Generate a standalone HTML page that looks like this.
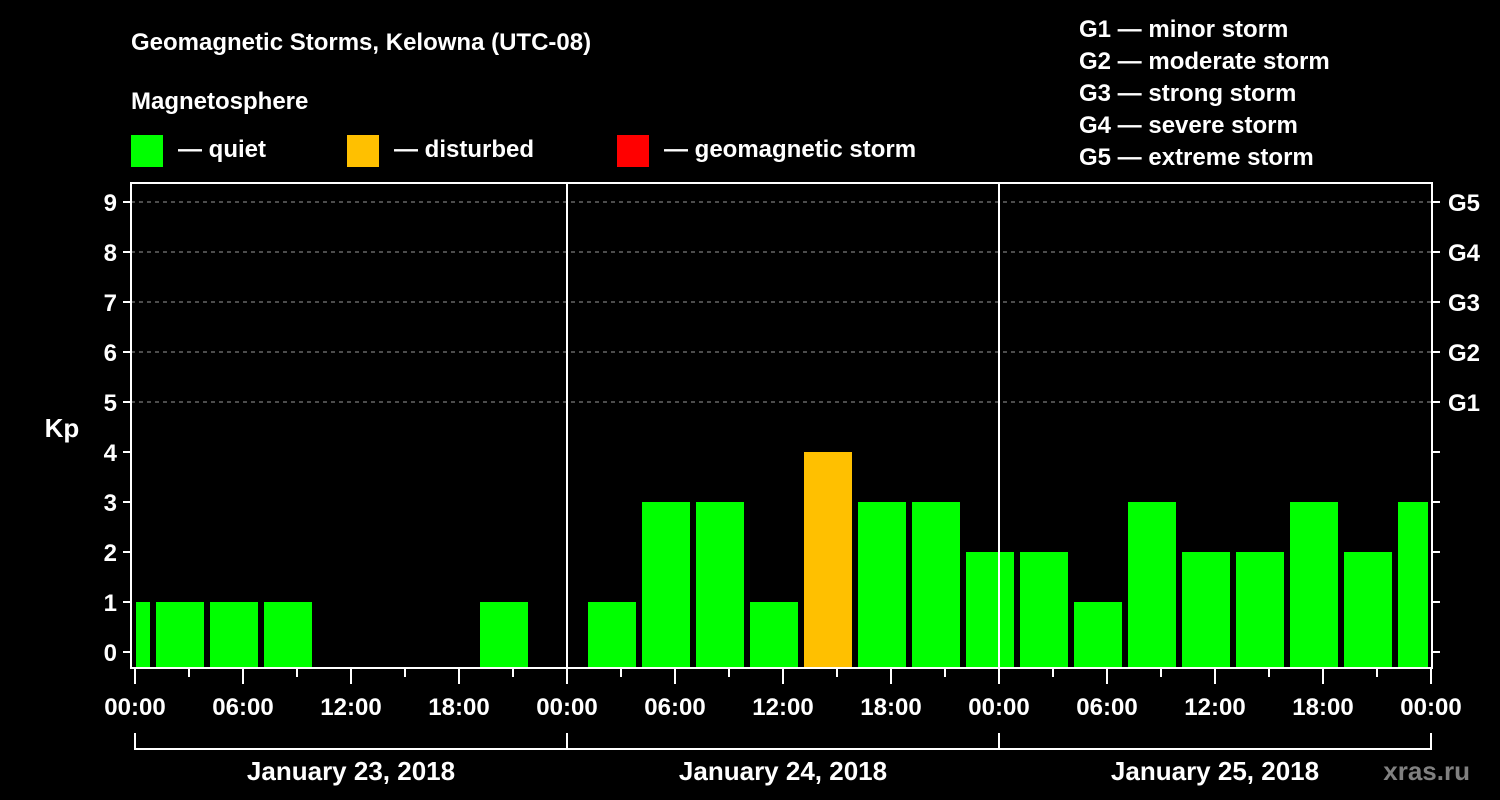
<!DOCTYPE html>
<html><head><meta charset="utf-8"><style>
html,body{margin:0;padding:0;background:#000;}
svg{display:block;font-family:"Liberation Sans",Arial,sans-serif;font-weight:bold;}
</style></head><body>
<svg id="chart" width="1500" height="800" viewBox="0 0 1500 800">
<rect x="0" y="0" width="1500" height="800" fill="#000"/>
<text x="131" y="50" fill="#fff" font-size="24">Geomagnetic Storms, Kelowna (UTC-08)</text>
<text x="131" y="109" fill="#fff" font-size="24">Magnetosphere</text>
<g><rect x="131" y="135" width="32" height="32" fill="#00ff00"/><text x="178" y="157" fill="#fff" font-size="24">— quiet</text></g>
<g><rect x="347" y="135" width="32" height="32" fill="#ffc000"/><text x="394" y="157" fill="#fff" font-size="24">— disturbed</text></g>
<g><rect x="617" y="135" width="32" height="32" fill="#ff0000"/><text x="664" y="157" fill="#fff" font-size="24">— geomagnetic storm</text></g>
<g fill="#fff" font-size="24">
<text x="1079" y="37">G1 — minor storm</text>
<text x="1079" y="69">G2 — moderate storm</text>
<text x="1079" y="101">G3 — strong storm</text>
<text x="1079" y="133">G4 — severe storm</text>
<text x="1079" y="165">G5 — extreme storm</text>
</g>
<text x="62" y="437" fill="#fff" font-size="26" text-anchor="middle">Kp</text>
<text x="1470" y="780" fill="#808080" font-size="26" text-anchor="end">xras.ru</text>
<g id="grid"></g>
<g id="bars"></g>
<g id="axes"></g>
</svg>
<script>
const kpValues = [1,1,1,1,0,0,0,1,0, 1,3,3,1,4,3,3,2, 2,1,3,2,2,3,2,3];
const kpColors = ['g','g','g','g','g','g','g','g','g', 'g','g','g','g','o','g','g','g', 'g','g','g','g','g','g','g','g'];
const yTicks = [0,1,2,3,4,5,6,7,8,9];
const gLabels = ['G1','G2','G3','G4','G5'];
const gLevels = [5,6,7,8,9];
const hourLabels = ['00:00','06:00','12:00','18:00','00:00','06:00','12:00','18:00','00:00','06:00','12:00','18:00','00:00'];
const dayLabels = ['January 23, 2018','January 24, 2018','January 25, 2018'];
const firstSlotHour = -2;
const slotHours = 3;

const NS='http://www.w3.org/2000/svg';
const L=131,R=1432,T=183,B=668,X0=135,PXH=18;
function xs(h){return X0+h*PXH;}
function ys(v){return 652-v*50;}
function mk(p,tag,a){const e=document.createElementNS(NS,tag);for(const k in a)e.setAttribute(k,a[k]);p.appendChild(e);return e;}
const grid=document.getElementById('grid'),bars=document.getElementById('bars'),axes=document.getElementById('axes');
gLevels.forEach((v,i)=>{
  const l=mk(grid,'line',{x1:L,x2:R,y1:ys(v),y2:ys(v),stroke:'#999','stroke-width':1,'stroke-dasharray':'4,4'});
  
  
});
const cmap={g:'#00ff00',o:'#ffc000',r:'#ff0000'};
const clipL=xs(0)+1,clipR=xs(72)-3;
kpValues.forEach((v,i)=>{
  if(v<=0)return;
  const s=xs(firstSlotHour+i*slotHours);
  let x1=Math.max(s+3,clipL),x2=Math.min(s+3+48,clipR);
  const r=mk(bars,'rect',{x:x1,y:ys(v),width:x2-x1,height:B-ys(v),fill:cmap[kpColors[i]]});
  
  
});
// day separators
[24,48].forEach(h=>{const l=mk(axes,'line',{x1:xs(h),x2:xs(h),y1:T,y2:B,stroke:'#fff','stroke-width':2});

});
const frame=mk(axes,'path',{d:`M${L} ${T}H${R}V${B}H${L}Z`,fill:'none',stroke:'#fff','stroke-width':2});


yTicks.forEach(v=>{
  mk(axes,'line',{x1:L-8,x2:L,y1:ys(v),y2:ys(v),stroke:'#fff','stroke-width':2});
  mk(axes,'line',{x1:R,x2:R+8,y1:ys(v),y2:ys(v),stroke:'#fff','stroke-width':2});
  const t=mk(axes,'text',{x:L-14,y:ys(v)+9,fill:'#fff','font-size':24,'text-anchor':'end'});
  t.textContent=v;
  
  
});
gLevels.forEach((v,i)=>{
  const t=mk(axes,'text',{x:R+16,y:ys(v)+9,fill:'#fff','font-size':24});
  t.textContent=gLabels[i];
  
  
});
for(let h=0;h<=72;h+=3){
  const major=h%6===0;
  mk(axes,'line',{x1:xs(h),x2:xs(h),y1:B,y2:B+(major?16:9),stroke:'#fff','stroke-width':2});
}
hourLabels.forEach((lab,i)=>{
  const t=mk(axes,'text',{x:xs(i*6),y:715,fill:'#fff','font-size':24,'text-anchor':'middle'});
  t.textContent=lab;
  
  
});
dayLabels.forEach((lab,i)=>{
  const a=xs(i*24),b=xs(i*24+24);
  const p=mk(axes,'path',{d:`M${a} 733V749H${b}V733`,fill:'none',stroke:'#fff','stroke-width':2});
  
  
  const t=mk(axes,'text',{x:(a+b)/2,y:780,fill:'#fff','font-size':26,'text-anchor':'middle'});
  t.textContent=lab;
  
  
});
</script>
</body></html>
